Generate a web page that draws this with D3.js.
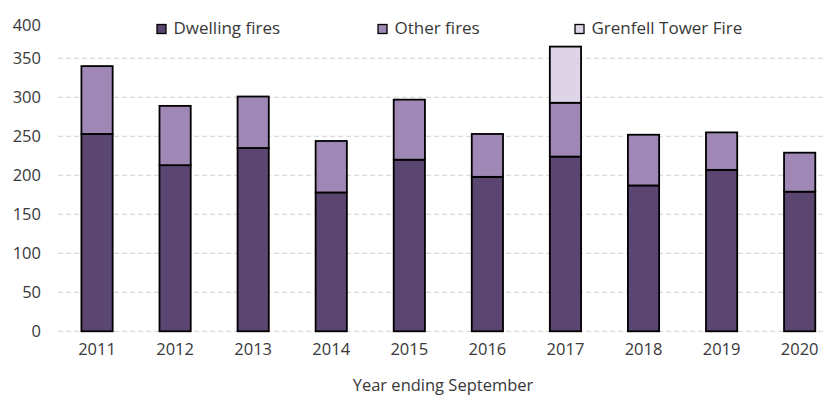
<!DOCTYPE html>
<html>
<head>
<meta charset="utf-8">
<script src="https://cdn.jsdelivr.net/npm/d3@7"></script>
<style>
  html, body { margin: 0; padding: 0; background: #ffffff; }
  svg { display: block; }
  text { font-family: "Open Sans", "DejaVu Sans", sans-serif; fill: #383838; }
</style>
</head>
<body>
<svg id="chart" width="824" height="396"></svg>
<script>
// Fire-related deaths, year ending September
const years = ["2011", "2012", "2013", "2014", "2015", "2016", "2017", "2018", "2019", "2020"];
const dwellingFires = [253, 213, 235, 178, 220, 198, 224, 187, 207, 179];
const otherFires    = [87, 76, 66, 66, 77, 55, 69, 65, 48, 50];
const grenfellFire  = [0, 0, 0, 0, 0, 0, 72, 0, 0, 0];
const yTicks = [0, 50, 100, 150, 200, 250, 300, 350, 400];

const seriesNames = ["Dwelling fires", "Other fires", "Grenfell Tower Fire"];
const seriesColors = ["#5a4670", "#9f88b5", "#ddd4e7"];

const rows = years.map((y, i) => ({
  year: y,
  "Dwelling fires": dwellingFires[i],
  "Other fires": otherFires[i],
  "Grenfell Tower Fire": grenfellFire[i]
}));

const svg = d3.select("#chart");
const W = 824;

const x = d3.scaleBand()
  .domain(years)
  .range([58, 838.7])
  .paddingInner(0.6)
  .paddingOuter(0.3);

const y = d3.scaleLinear()
  .domain([0, 400])
  .range([331.3, 19.3]);

// Dashed horizontal gridlines (the top value has no line)
svg.append("g")
  .selectAll("line")
  .data(yTicks.filter(t => t < 400))
  .join("line")
  .attr("x1", 58)
  .attr("x2", W)
  .attr("y1", d => y(d))
  .attr("y2", d => y(d))
  .attr("stroke", "#d3d3d3")
  .attr("stroke-width", 1)
  .attr("stroke-dasharray", "5,3");

// Y axis labels
const yAxis = d3.axisLeft(y).tickValues(yTicks).tickSize(0).tickPadding(0);
const gy = svg.append("g").attr("transform", "translate(41,0)").call(yAxis);
gy.select(".domain").remove();
gy.selectAll("text")
  .attr("font-size", 16.5)
  .style("font-family", "'Open Sans', 'DejaVu Sans', sans-serif")
  .attr("fill", "#383838")
  .attr("dy", d => d === 400 ? "0.65em" : "0.34em");

// X axis labels
const xAxis = d3.axisBottom(x).tickSize(0).tickPadding(0);
const gx = svg.append("g").attr("transform", "translate(0,343)").call(xAxis);
gx.select(".domain").remove();
gx.selectAll("text")
  .attr("font-size", 16.5)
  .style("font-family", "'Open Sans', 'DejaVu Sans', sans-serif")
  .attr("fill", "#383838")
  .attr("dy", "0.71em");

// Stacked bars
const stack = d3.stack().keys(seriesNames);
const stacked = stack(rows);

svg.append("g")
  .selectAll("g")
  .data(stacked)
  .join("g")
  .attr("fill", (d, i) => seriesColors[i])
  .selectAll("rect")
  .data(d => d.filter(s => s[1] - s[0] > 0))
  .join("rect")
  .attr("x", d => x(d.data.year))
  .attr("width", x.bandwidth())
  .attr("y", d => y(d[1]))
  .attr("height", d => y(d[0]) - y(d[1]))
  .attr("stroke", "#000000")
  .attr("stroke-width", 1.8);

// Legend
const legendX = [157, 378, 575];
const legend = svg.append("g");
seriesNames.forEach((name, i) => {
  legend.append("rect")
    .attr("x", legendX[i])
    .attr("y", 24.5)
    .attr("width", 9)
    .attr("height", 9)
    .attr("fill", seriesColors[i])
    .attr("stroke", "#000000")
    .attr("stroke-width", 1.3);
  legend.append("text")
    .attr("x", legendX[i] + 16.5)
    .attr("y", 34)
    .attr("font-size", 17)
    .text(name);
});

// X axis title
svg.append("text")
  .attr("x", 443)
  .attr("y", 391)
  .attr("text-anchor", "middle")
  .attr("font-size", 16.5)
  .text("Year ending September");
</script>
</body>
</html>
